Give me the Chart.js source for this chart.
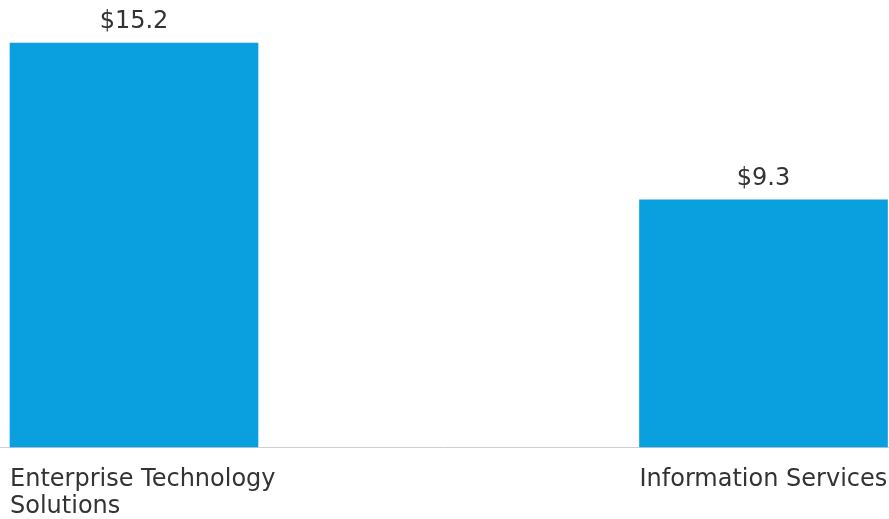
<!DOCTYPE html>
<html>
<head>
<meta charset="utf-8">
<script src="https://cdn.jsdelivr.net/npm/chart.js@4"></script>
<style>
  html, body { margin: 0; padding: 0; background: #ffffff; }
  #wrap { width: 889px; height: 519px; position: relative; }
</style>
</head>
<body>
<div id="wrap"><canvas id="chart"></canvas></div>
<script>
// Segment revenue ($, billions)
const categories = [["Enterprise Technology", "Solutions"], ["Information Services"]];
const revenue = [15.2, 9.3];
const valueLabels = ["$15.2", "$9.3"];

const BAR_COLOR = "#0aa0e0";
const TEXT_COLOR = "#333333";
const FONT_FAMILY = "'DejaVu Sans', sans-serif";
const BAR_WIDTH = 248;

// Dollar labels centred above each bar
const valueLabelPlugin = {
  id: "valueLabels",
  afterDatasetsDraw(chart) {
    const ctx = chart.ctx;
    const meta = chart.getDatasetMeta(0);
    ctx.save();
    ctx.fillStyle = TEXT_COLOR;
    ctx.font = "24px " + FONT_FAMILY;
    ctx.textAlign = "center";
    ctx.textBaseline = "alphabetic";
    meta.data.forEach((bar, i) => {
      ctx.fillText(valueLabels[i], bar.x, bar.y - 15);
    });
    ctx.restore();
  }
};

// Thin grey baseline running across the full width
const baselinePlugin = {
  id: "baseline",
  beforeDatasetsDraw(chart) {
    const ctx = chart.ctx;
    const y = chart.scales.y.getPixelForValue(0);
    ctx.save();
    ctx.strokeStyle = "#d0d0d0";
    ctx.lineWidth = 1;
    ctx.beginPath();
    ctx.moveTo(0, Math.round(y) + 0.5);
    ctx.lineTo(chart.width, Math.round(y) + 0.5);
    ctx.stroke();
    ctx.restore();
  }
};

new Chart(document.getElementById("chart"), {
  type: "bar",
  data: {
    labels: categories,
    datasets: [{
      data: revenue,
      backgroundColor: BAR_COLOR,
      borderWidth: 0,
      barThickness: BAR_WIDTH,
      clip: false
    }]
  },
  options: {
    responsive: true,
    maintainAspectRatio: false,
    animation: false,
    layout: { padding: { left: 134, right: 125.5, top: 43, bottom: 0 } },
    plugins: {
      legend: { display: false },
      tooltip: { enabled: false }
    },
    scales: {
      x: {
        offset: false,
        grid: { display: false, drawTicks: false },
        border: { display: false },
        ticks: {
          align: "start",
          labelOffset: -BAR_WIDTH / 2,
          padding: 20,
          color: TEXT_COLOR,
          font: { family: FONT_FAMILY, size: 24, lineHeight: 1.1 },
          maxRotation: 0,
          minRotation: 0,
          autoSkip: false
        },
        afterFit(scale) {
          scale.height = 72;
          scale.paddingLeft = 0;
          scale.paddingRight = 0;
        }
      },
      y: {
        display: false,
        min: 0,
        max: 15.2
      }
    }
  },
  plugins: [baselinePlugin, valueLabelPlugin]
});
</script>
</body>
</html>
